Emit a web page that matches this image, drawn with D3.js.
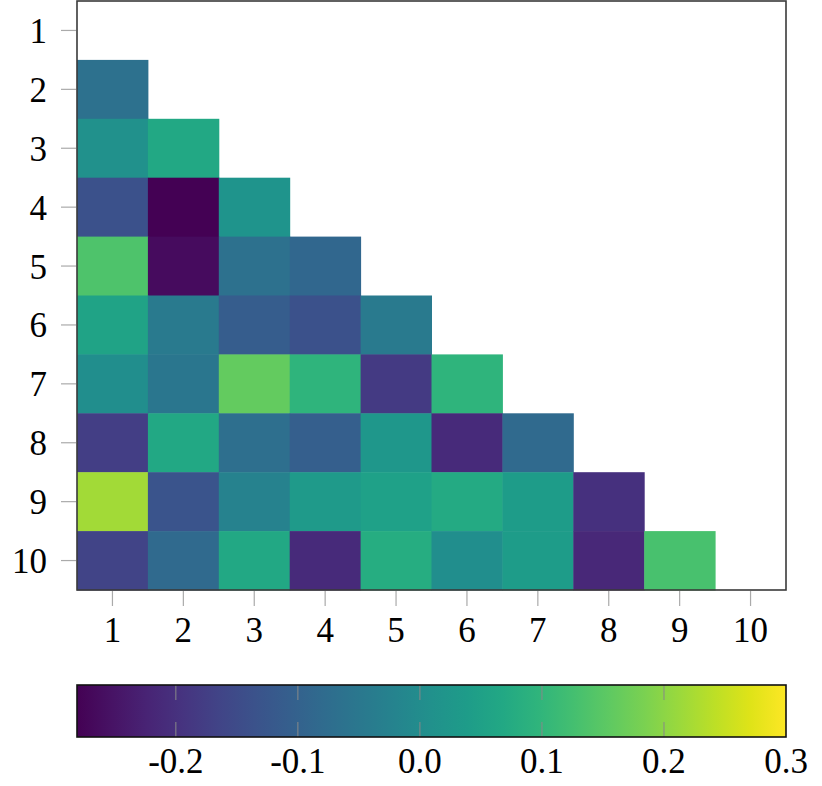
<!DOCTYPE html>
<html><head><meta charset="utf-8">
<script src="https://cdn.jsdelivr.net/npm/d3@7"></script>
<style>body{margin:0;background:#fff}svg{display:block}text{font-family:"Liberation Serif","DejaVu Serif",serif;fill:#000}</style>
</head><body><svg id="c" width="822" height="786"></svg>
<script>
const labels = [1,2,3,4,5,6,7,8,9,10];
// lower-triangle values, row i (2..10), columns 1..i-1
const row2 = [-0.066];
const row3 = [0.010, 0.068];
const row4 = [-0.136, -0.281, 0.020];
const row5 = [0.137, -0.264, -0.066, -0.090];
const row6 = [0.056, -0.043, -0.113, -0.136, -0.043];
const row7 = [0.004, -0.054, 0.160, 0.097, -0.182, 0.097];
const row8 = [-0.176, 0.068, -0.072, -0.107, 0.027, -0.211, -0.083];
const row9 = [0.219, -0.130, -0.025, 0.033, 0.050, 0.073, 0.039, -0.200];
const row10 = [-0.165, -0.083, 0.068, -0.211, 0.079, 0.004, 0.039, -0.217, 0.131];
const rows = [[], row2, row3, row4, row5, row6, row7, row8, row9, row10];
const colorTicks = [-0.2, -0.1, 0.0, 0.1, 0.2, 0.3];
const cMin = -0.281, cMax = 0.3;

const svg = d3.select("#c");
const L = 77, R = 786, T = 1, B = 590;
const FS = 35;
const x = d3.scaleBand().domain(labels).range([L, R]).padding(0);
const y = d3.scaleBand().domain(labels).range([T, B]).padding(0);
const color = d3.scaleSequential(d3.interpolateViridis).domain([cMin, cMax]);

const cells = [];
rows.forEach((r, i) => r.forEach((v, j) => cells.push({row: labels[i], col: labels[j], v})));
svg.append("g").selectAll("rect").data(cells).join("rect")
  .attr("x", d => x(d.col)).attr("y", d => y(d.row))
  .attr("width", x.bandwidth() + 0.5).attr("height", y.bandwidth() + 0.5)
  .attr("fill", d => color(d.v));

svg.append("rect").attr("x", L).attr("y", T).attr("width", R - L).attr("height", B - T)
  .attr("fill", "none").attr("stroke", "#3a3a3a").attr("stroke-width", 1.6);

// y axis
const gy = svg.append("g");
labels.forEach(l => {
  const cy = y(l) + y.bandwidth() / 2;
  gy.append("line").attr("x1", 61).attr("x2", L - 1).attr("y1", cy).attr("y2", cy)
    .attr("stroke", "#aaa").attr("stroke-width", 1.2);
  gy.append("text").attr("x", 47).attr("y", cy + 12.5).attr("text-anchor", "end")
    .attr("font-size", FS).text(l);
});
// x axis
const gx = svg.append("g");
labels.forEach(l => {
  const cx = x(l) + x.bandwidth() / 2;
  gx.append("line").attr("x1", cx).attr("x2", cx).attr("y1", B + 1).attr("y2", 606)
    .attr("stroke", "#aaa").attr("stroke-width", 1.2);
  gx.append("text").attr("x", cx).attr("y", 642).attr("text-anchor", "middle")
    .attr("font-size", FS).text(l);
});

// colorbar
const cbT = 685, cbB = 737;
const cx = d3.scaleLinear().domain([cMin, cMax]).range([L, R]);
const defs = svg.append("defs");
const grad = defs.append("linearGradient").attr("id", "vg").attr("x1", "0%").attr("x2", "100%");
d3.range(0, 1.0001, 0.05).forEach(t => grad.append("stop").attr("offset", (t * 100) + "%").attr("stop-color", d3.interpolateViridis(t)));
svg.append("rect").attr("x", L).attr("y", cbT).attr("width", R - L).attr("height", cbB - cbT).attr("fill", "url(#vg)");
colorTicks.forEach(t => {
  const px = cx(t);
  if (t < cMax) {
    svg.append("line").attr("x1", px).attr("x2", px).attr("y1", cbT).attr("y2", cbT + 15).attr("stroke", "#888").attr("stroke-width", 1);
    svg.append("line").attr("x1", px).attr("x2", px).attr("y1", cbB - 15).attr("y2", cbB).attr("stroke", "#888").attr("stroke-width", 1);
  }
  svg.append("text").attr("x", px).attr("y", 773).attr("text-anchor", "middle").attr("font-size", FS).text(d3.format(".1f")(t).replace("−", "-"));
});
svg.append("rect").attr("x", L).attr("y", cbT).attr("width", R - L).attr("height", cbB - cbT)
  .attr("fill", "none").attr("stroke", "#111").attr("stroke-width", 1.6);
</script></body></html>
